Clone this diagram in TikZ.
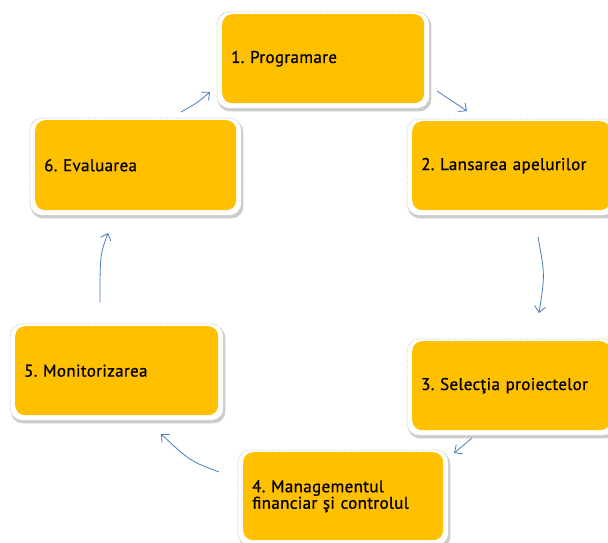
\documentclass[tikz,border=0pt]{standalone}
\usepackage{fontspec}
\setmainfont{PT Sans}[LetterSpace=2, BoldFont=PT Sans, BoldFeatures={FakeBold=0.8, LetterSpace=2}]
\usetikzlibrary{arrows.meta,calc,backgrounds}
\definecolor{boxorange}{HTML}{FFC000}
\definecolor{arrowblue}{HTML}{4A7EBB}
\begin{document}
\frenchspacing
\begin{tikzpicture}[x=1pt,y=1pt,
  stepbox/.style={fill=boxorange, rounded corners=10pt, anchor=north west,
    inner xsep=9pt, inner ysep=0pt, align=left, text=black,
    font=\fontsize{17}{16.5}\selectfont\bfseries},
  flow/.style={draw=arrowblue, line width=0.8pt,
    -{Straight Barb[length=6pt,width=11pt]}},
  shadowband/.style={fill=gray!40, rounded corners=12pt},
  shadowline/.style={fill=white, draw=gray!45, densely dotted, line width=0.8pt, rounded corners=12pt}
]
\useasboundingbox (0,0) rectangle (608,-542);

\node[stepbox, minimum width=202pt, minimum height=89pt, text width=184pt] (n1) at (222,-14) {1. Programare};
\node[stepbox, minimum width=198pt, minimum height=89pt, text width=180pt] (n2) at (412,-121) {2. Lansarea apelurilor};
\node[stepbox, minimum width=198pt, minimum height=89pt, text width=180pt] (n3) at (412,-341) {3. Selec\char"0163 ia proiectelor};
\node[stepbox, minimum width=200pt, minimum height=88pt, text width=182pt] (n4) at (243,-452) {4. Managementul\\financiar \char"015F i controlul};
\node[stepbox, minimum width=203pt, minimum height=89pt, text width=185pt] (n5) at (15,-326) {5. Monitorizarea};
\node[stepbox, minimum width=201pt, minimum height=90pt, text width=183pt] (n6) at (35,-120) {6. Evaluarea};

\begin{scope}[on background layer]
\fill[white] (0,0) rectangle (608,-542);
\foreach \n in {n1,n2,n3,n4,n5,n6}{
  \fill[shadowband] ($(\n.north west)+(-4,0)$) rectangle ($(\n.south east)+(7,-8)$);
  \draw[shadowline] ($(\n.north west)+(-5,2)$) rectangle ($(\n.south east)+(5,-5)$);
}
\end{scope}

\coordinate (a1s) at (437,-91);  \coordinate (a1e) at (467,-111);
\coordinate (a2s) at (538,-237); \coordinate (a2e) at (539,-313);
\coordinate (a3s) at (472,-438); \coordinate (a3e) at (454,-453);
\coordinate (a4s) at (219,-472); \coordinate (a4e) at (161,-434);
\coordinate (a5s) at (100,-302); \coordinate (a5e) at (108,-233);
\coordinate (a6s) at (181,-112); \coordinate (a6e) at (210,-92);

\draw[flow] (a1s) .. controls (452,-100) .. (a1e);
\draw[flow] (a2s) .. controls (545,-275) .. (a2e);
\draw[flow] (a3s) .. controls (464,-446) .. (a3e);
\draw[flow] (a4s) .. controls (190,-461) .. (a4e);
\draw[flow] (a5s) .. controls (100,-255) .. (a5e);
\draw[flow] (a6s) .. controls (197,-103) .. (a6e);
\end{tikzpicture}
\end{document}
